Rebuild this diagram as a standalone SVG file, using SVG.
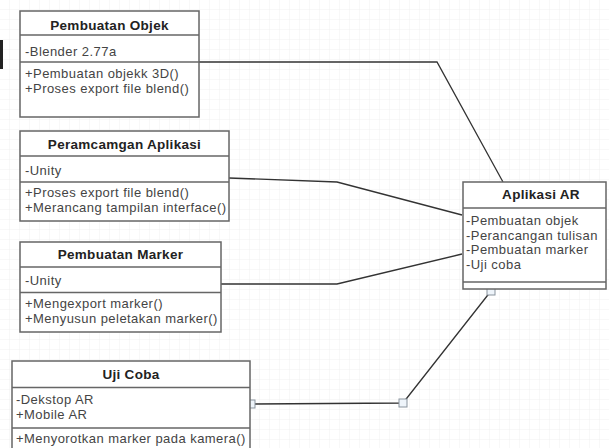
<svg xmlns="http://www.w3.org/2000/svg" width="609" height="448" viewBox="0 0 609 448">
<defs>
<pattern id="grid" width="10" height="10" patternUnits="userSpaceOnUse">
<path d="M10 0 V10 M0 10 H10" fill="none" stroke="#f1f1f1" stroke-width="1"/>
</pattern>
<style>
.box{fill:#fff;stroke:#666;stroke-width:1.5}
.div{stroke:#666;stroke-width:1.5}
.t{font-family:"Liberation Sans",Arial,sans-serif;font-size:13.5px;font-weight:bold;fill:#222;text-anchor:middle;letter-spacing:0.3px}
.a{font-family:"Liberation Sans",Arial,sans-serif;font-size:13px;fill:#444;letter-spacing:0.45px}
.c{fill:none;stroke:#333;stroke-width:1.3}
.h{fill:#eef4fa;stroke:#8a949e;stroke-width:1}
</style>
</defs>
<rect width="609" height="448" fill="#fff"/>
<rect width="609" height="448" fill="url(#grid)"/>
<rect x="0" y="40" width="3" height="29" fill="#222"/>

<g id="connectors">
<polyline class="c" points="199,62 437,62 503,182"/>
<polyline class="c" points="229,178 337,182 462,215"/>
<polyline class="c" points="221,284 337,284 462,254"/>
<polyline class="c" points="251,404 403,403 491,291" stroke="#2c3b4a"/>
<rect class="h" x="247" y="400" width="8" height="8"/>
<rect class="h" x="399" y="399" width="8" height="8"/>
<rect class="h" x="487" y="287" width="8" height="8"/>
</g>

<g id="pembuatan-objek">
<rect class="box" x="20" y="11" width="179" height="106"/>
<line class="div" x1="20" y1="35" x2="199" y2="35"/>
<line class="div" x1="20" y1="62" x2="199" y2="62"/>
<text class="t" x="109.5" y="29.5">Pembuatan Objek</text>
<text class="a" x="25" y="55.5">-Blender 2.77a</text>
<text class="a" x="25" y="78">+Pembuatan objekk 3D()</text>
<text class="a" x="25" y="93">+Proses export file blend()</text>
</g>

<g id="peramcamgan-aplikasi">
<rect class="box" x="20" y="131" width="209" height="90"/>
<line class="div" x1="20" y1="156" x2="229" y2="156"/>
<line class="div" x1="20" y1="182" x2="229" y2="182"/>
<text class="t" x="124.5" y="148.5">Peramcamgan Aplikasi</text>
<text class="a" x="25" y="174.5">-Unity</text>
<text class="a" x="25" y="197">+Proses export file blend()</text>
<text class="a" x="25" y="212">+Merancang tampilan interface()</text>
</g>

<g id="pembuatan-marker">
<rect class="box" x="20" y="242" width="201" height="90"/>
<line class="div" x1="20" y1="267" x2="221" y2="267"/>
<line class="div" x1="20" y1="292.5" x2="221" y2="292.5"/>
<text class="t" x="120.5" y="258.5">Pembuatan Marker</text>
<text class="a" x="25" y="285">-Unity</text>
<text class="a" x="25" y="307.5">+Mengexport marker()</text>
<text class="a" x="25" y="322.5">+Menyusun peletakan marker()</text>
</g>

<g id="uji-coba">
<rect class="box" x="12" y="361" width="238" height="100"/>
<line class="div" x1="12" y1="387.5" x2="250" y2="387.5"/>
<line class="div" x1="12" y1="428" x2="250" y2="428"/>
<text class="t" x="131" y="378.5">Uji Coba</text>
<text class="a" x="16" y="404">-Dekstop AR</text>
<text class="a" x="16" y="418.5">+Mobile AR</text>
<text class="a" x="16" y="443">+Menyorotkan marker pada kamera()</text>
</g>

<g id="aplikasi-ar">
<rect class="box" x="463" y="182" width="143" height="107"/>
<line class="div" x1="463" y1="208" x2="606" y2="208"/>
<line class="div" x1="463" y1="282" x2="606" y2="282"/>
<text class="t" x="541" y="198.5">Aplikasi AR</text>
<text class="a" x="466" y="225">-Pembuatan objek</text>
<text class="a" x="466" y="239.5">-Perancangan tulisan</text>
<text class="a" x="466" y="254">-Pembuatan marker</text>
<text class="a" x="466" y="268.5">-Uji coba</text>
</g>
</svg>
